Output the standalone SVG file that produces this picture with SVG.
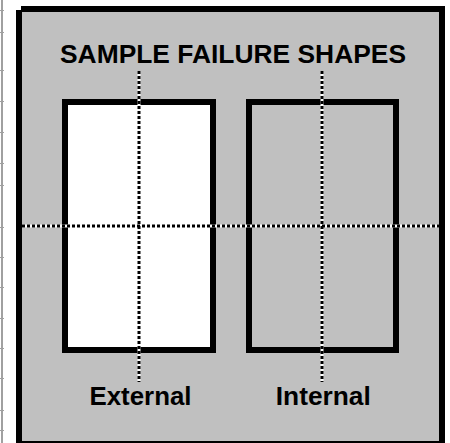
<svg xmlns="http://www.w3.org/2000/svg" width="450" height="443" viewBox="0 0 450 443">
<style>
.lbl{font-family:"Liberation Sans",Arial,sans-serif;font-weight:bold;font-size:25.5px;fill:#000;text-anchor:middle}
.ttl{font-size:26.3px}
.box{stroke:#000;stroke-width:6}
.axisbg{stroke:#fff;stroke-width:3;fill:none}
.axis{stroke:#000;stroke-width:3;stroke-dasharray:3 2;fill:none}
.tick{stroke:#a0a0a0;stroke-width:1}
</style>
<rect width="450" height="443" fill="#fff"/>
<g id="edge">
<line x1="2" y1="0" x2="2" y2="443" stroke="#a0a0a0" stroke-width="2"/>
<path class="tick" d="M0 10.5h4M0 32.5h4M0 70.5h4M0 101.5h4M0 132.5h4M0 163.5h4M0 185.5h4M0 227.5h4M0 257.5h4M0 287.5h4M0 318.5h4M0 348.5h4M0 378.5h4M0 410.5h4M0 430.5h4"/>
</g>
<g id="frame">
<rect x="16" y="10" width="429" height="433" fill="#000"/>
<rect x="21" y="6" width="424" height="437" fill="#000"/>
<rect x="22" y="12" width="417" height="429" fill="#c0c0c0"/>
</g>
<g id="title"><text class="lbl ttl" x="233" y="63" textLength="346" lengthAdjust="spacingAndGlyphs">SAMPLE FAILURE SHAPES</text></g>
<g id="external">
<rect class="box" x="65" y="102" width="148" height="248" fill="#fff"/>
<text class="lbl" x="140.5" y="405" textLength="102" lengthAdjust="spacingAndGlyphs">External</text>
</g>
<g id="internal">
<rect class="box" x="249" y="102" width="147" height="248" fill="none"/>
<text class="lbl" x="323.3" y="405" textLength="95" lengthAdjust="spacingAndGlyphs">Internal</text>
</g>
<g id="connectors">
<path class="axisbg" d="M22 226H439M139 71V382M322 71V382"/>
<path class="axis" d="M22 226H439M139 71V382M322 71V382"/>
</g>
</svg>
